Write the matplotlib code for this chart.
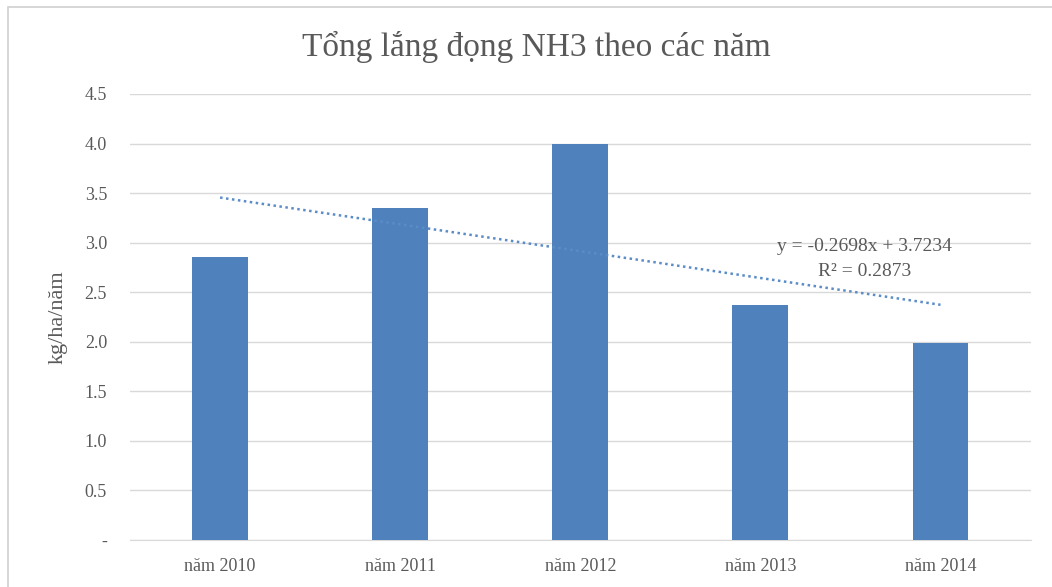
"""Tổng lắng đọng NH3 theo các năm."""

import matplotlib

matplotlib.use("Agg")
import matplotlib.pyplot as plt
import numpy as np
from matplotlib.patches import Rectangle

years = ["năm 2010", "năm 2011", "năm 2012", "năm 2013", "năm 2014"]
values = [2.855, 3.35, 4.0, 2.375, 1.99]
yticks = [0, 0.5, 1.0, 1.5, 2.0, 2.5, 3.0, 3.5, 4.0, 4.5]
ytick_labels = ["-", "0.5", "1.0", "1.5", "2.0", "2.5", "3.0", "3.5", "4.0", "4.5"]
trend_eq = "y = -0.2698x + 3.7234"
trend_r2 = "R² = 0.2873"

plt.rcParams["font.family"] = ["Liberation Serif", "DejaVu Serif"]

fig = plt.figure(figsize=(10.52, 5.87), dpi=100)
ax = fig.add_axes([0.1236, 0.0801, 0.8560, 0.7598])

# chart area border (left and top visible)
fig.patches.append(
    Rectangle((0.008, -0.01), 1.5, 0.998, transform=fig.transFigure,
              fill=False, ec="#d0d0d0", lw=1.2)
)

x = np.arange(len(years))
ax.bar(x, values, width=0.31, color="#4F81BD", zorder=3)

# linear trend (Excel style, x = 1..n)
xn = x + 1
slope, intercept = np.polyfit(xn, values, 1)
ax.plot(x, slope * xn + intercept, linestyle=(0, (1, 1.4)), color="#5B8CC8",
        lw=1.8, zorder=4)
ax.text(3.58, 2.96, trend_eq, ha="center", va="center", fontsize=14,
        color="#595959")
ax.text(3.58, 2.71, trend_r2, ha="center", va="center", fontsize=14,
        color="#595959")

ax.set_xlim(-0.5, len(years) - 0.5)
ax.set_ylim(0, 4.5)
ax.set_yticks(yticks)
ax.set_yticklabels(ytick_labels)
ax.set_xticks(x)
ax.set_xticklabels(years)
ax.tick_params(axis="both", length=0, labelsize=13, labelcolor="#595959")
ax.tick_params(axis="y", pad=16.5)
ax.tick_params(axis="x", pad=13)
ax.grid(axis="y", color="#d9d9d9", lw=1, zorder=0)
for side in ["top", "right", "left"]:
    ax.spines[side].set_visible(False)
ax.spines["bottom"].set_color("#d9d9d9")

ax.set_ylabel("kg/ha/năm", fontsize=16, color="#595959", labelpad=12)
fig.text(0.51, 0.92, "Tổng lắng đọng NH3 theo các năm", ha="center",
         va="center", fontsize=24, color="#595959")

fig.savefig("out.png", dpi=100)
